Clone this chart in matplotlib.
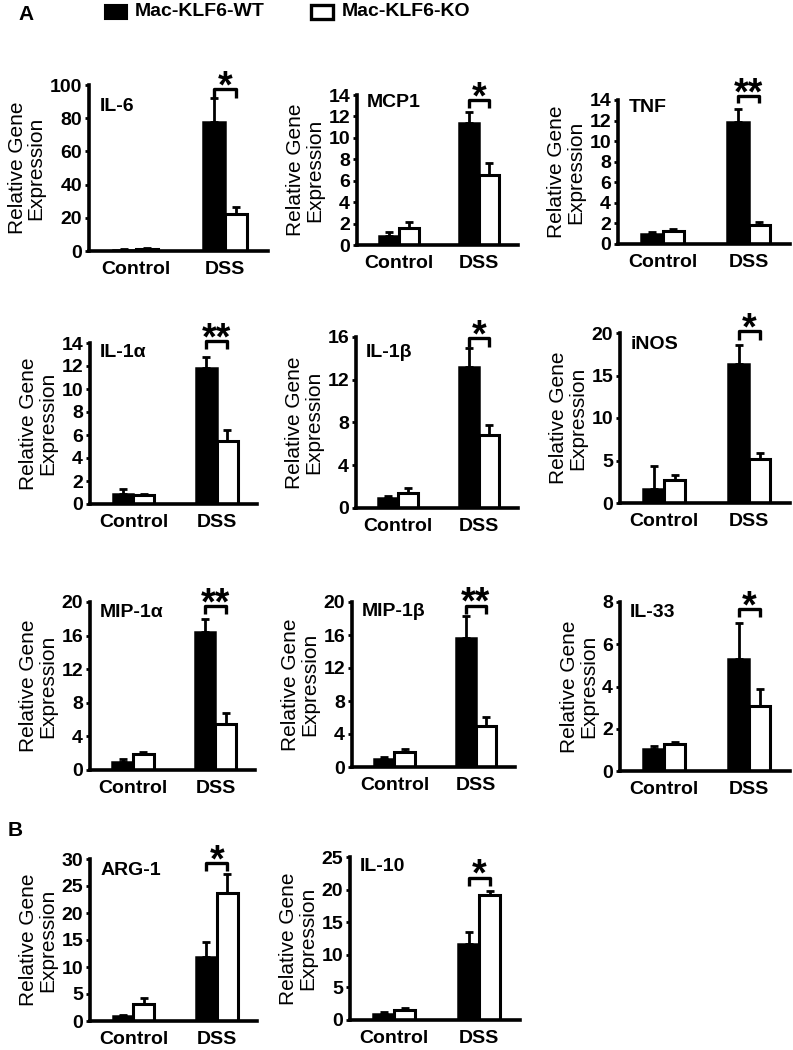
import matplotlib
matplotlib.use("Agg")
import matplotlib.pyplot as plt
from matplotlib.patches import Rectangle

plt.rcParams['font.family'] = ['Liberation Sans', 'DejaVu Sans']

# data (mean and upper error, Control / DSS)
genes = ['IL-6', 'MCP1', 'TNF', 'IL-1α', 'IL-1β', 'iNOS',
         'MIP-1α', 'MIP-1β', 'IL-33', 'ARG-1', 'IL-10']
groups = ['Control', 'DSS']
wt_mean = [[0.9, 77.5], [0.87, 11.37], [0.97, 11.9], [0.87, 11.83], [0.94, 13.19],
           [1.64, 16.3], [0.99, 16.38], [0.97, 15.64], [1.06, 5.28], [0.93, 11.78],
           [0.87, 11.58]]
wt_err = [[0.3, 14.5], [0.31, 1.0], [0.16, 1.2], [0.41, 0.97], [0.21, 1.78],
          [2.7, 2.25], [0.32, 1.62], [0.24, 2.7], [0.11, 1.72], [0.25, 2.91],
          [0.3, 1.94]]
ko_mean = [[1.3, 22.0], [1.56, 6.54], [1.23, 1.81], [0.78, 5.49], [1.40, 6.83],
           [2.73, 5.16], [1.91, 5.49], [1.82, 4.93], [1.26, 3.06], [3.1, 23.68],
           [1.53, 19.23]]
ko_err = [[0.3, 4.5], [0.62, 1.16], [0.26, 0.29], [0.09, 0.96], [0.47, 0.91],
          [0.51, 0.7], [0.24, 1.27], [0.40, 1.09], [0.11, 0.84], [1.18, 3.6],
          [0.26, 0.51]]
y_max = [100, 14, 14, 14, 16, 20, 20, 20, 8, 30, 25]
y_step = [20, 2, 2, 2, 4, 5, 4, 4, 2, 5, 5]
stars = ['*', '*', '**', '**', '*', '*', '**', '**', '*', '*', '*']
bracket_y = [97.4, 13.5, 14.4, 14.15, 15.9, 20.2, 19.56, 19.56, 7.68, 29.26, 21.84]

# axes boxes in pixels: left, right, top, bottom
boxes = [(89, 268, 85, 251), (357, 518, 95, 245), (618, 790, 100, 244),
         (90, 257, 343, 504), (356, 518, 337, 508), (620, 790, 333, 503),
         (90, 255, 602, 770), (352, 515, 602, 767), (620, 790, 602, 771),
         (90, 257, 859, 1021), (350, 520, 857, 1020)]
label_y = [0.87, 0.95, 0.95, 0.94, 0.91, 0.935, 0.94, 0.94, 0.935, 0.93, 0.94]

W, H = 793, 1050
fig = plt.figure(figsize=(W / 100, H / 100), dpi=100)

width = 0.25
for i, g in enumerate(genes):
    l, r, t, b = boxes[i]
    ax = fig.add_axes([l / W, 1 - b / H, (r - l) / W, (b - t) / H])
    x = [0, 1]
    xw = [v - width / 2 for v in x]
    xk = [v + width / 2 for v in x]
    ax.bar(xw, wt_mean[i], width, color='black', edgecolor='black', linewidth=1.8,
           yerr=[[0, 0], wt_err[i]], capsize=3,
           error_kw=dict(elinewidth=2, capthick=2, ecolor='black'), zorder=2)
    ax.bar(xk, ko_mean[i], width, color='white', edgecolor='black', linewidth=2.2,
           yerr=[[0, 0], ko_err[i]], capsize=3,
           error_kw=dict(elinewidth=2, capthick=2, ecolor='black'), zorder=2)
    ax.set_xlim(-0.52, 1.48)
    ax.set_ylim(0, y_max[i])
    ax.set_yticks(range(0, y_max[i] + 1, y_step[i]))
    ax.set_xticks(x)
    ax.set_xticklabels(groups, fontsize=14, fontweight='bold')
    ax.tick_params(axis='x', length=0, pad=7)
    ax.tick_params(axis='y', length=3, width=2, pad=2, labelsize=14)
    for lab in ax.get_yticklabels():
        lab.set_fontweight('bold')
    for s in ['top', 'right']:
        ax.spines[s].set_visible(False)
    for s in ['left', 'bottom']:
        ax.spines[s].set_linewidth(2.6)
    ax.set_ylabel('Relative Gene\nExpression', fontsize=15, linespacing=1.0, labelpad=3)
    ax.text(0.06, label_y[i], g, transform=ax.transAxes, fontsize=14,
            fontweight='bold', va='center', ha='left')

    # significance bracket
    by = bracket_y[i]
    tick = 0.05 * y_max[i]
    ax.plot([xw[1], xw[1], xk[1], xk[1]], [by - tick, by, by, by - tick],
            color='black', lw=2.4, clip_on=False, solid_capstyle='butt')
    ax.annotate(stars[i], (x[1], by), xytext=(0, -6), textcoords='offset points',
                ha='center', va='baseline', fontsize=27, fontweight='bold',
                annotation_clip=False)

# panel letters and legend
fig.text(18 / W, 1 - 14 / H, 'A', fontsize=15, fontweight='bold', va='center', ha='left')
fig.text(8 / W, 1 - 831 / H, 'B', fontsize=15, fontweight='bold', va='center', ha='left')
fig.patches.append(Rectangle((105 / W, 1 - 19 / H), 22 / W, 14 / H, transform=fig.transFigure,
                             facecolor='black', edgecolor='black', lw=1.5))
fig.text(135 / W, 1 - 12 / H, 'Mac-KLF6-WT', fontsize=14, fontweight='bold', va='center')
fig.patches.append(Rectangle((311 / W, 1 - 19 / H), 22 / W, 14 / H, transform=fig.transFigure,
                             facecolor='white', edgecolor='black', lw=2.4))
fig.text(342 / W, 1 - 12 / H, 'Mac-KLF6-KO', fontsize=14, fontweight='bold', va='center')

fig.savefig('out.png', dpi=100, facecolor='white')
